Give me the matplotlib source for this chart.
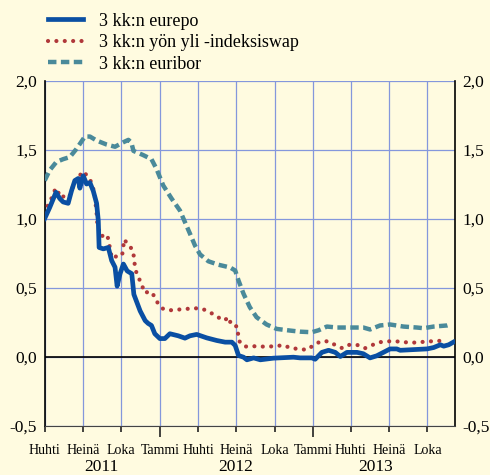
import matplotlib
matplotlib.use('Agg')
import matplotlib.pyplot as plt
import pandas as pd

plt.rcParams['font.family'] = 'serif'
plt.rcParams['font.serif'] = ['Liberation Serif', 'Times New Roman', 'DejaVu Serif']

# 3 kk:n eurepo
eurepo_dates = ['2011-04-01', '2011-04-13', '2011-04-28', '2011-05-07', '2011-05-15',
                '2011-05-27', '2011-06-04', '2011-06-12', '2011-06-20', '2011-06-24',
                '2011-07-02', '2011-07-10', '2011-07-18', '2011-07-26', '2011-08-03',
                '2011-08-07', '2011-08-09', '2011-08-19', '2011-08-31', '2011-09-08',
                '2011-09-16', '2011-09-21', '2011-09-28', '2011-10-06', '2011-10-15',
                '2011-10-26', '2011-10-31', '2011-11-15', '2011-11-27', '2011-12-04',
                '2011-12-12', '2011-12-20', '2012-01-01', '2012-01-13', '2012-01-25',
                '2012-02-14', '2012-03-01', '2012-03-13', '2012-03-29', '2012-04-22',
                '2012-05-16', '2012-06-05', '2012-06-21', '2012-06-29', '2012-07-07',
                '2012-07-19', '2012-07-27', '2012-08-12', '2012-08-28', '2012-09-28',
                '2012-11-15', '2012-12-01', '2012-12-29', '2013-01-06', '2013-01-22',
                '2013-02-07', '2013-02-23', '2013-03-07', '2013-03-23', '2013-04-16',
                '2013-05-01', '2013-05-17', '2013-06-02', '2013-06-18', '2013-07-04',
                '2013-07-20', '2013-07-28', '2013-08-29', '2013-09-30', '2013-10-16',
                '2013-11-01', '2013-11-09', '2013-11-21', '2013-12-02']
eurepo = [1.00, 1.08, 1.19, 1.145, 1.12,
          1.11, 1.20, 1.275, 1.29, 1.22,
          1.31, 1.25, 1.26, 1.20, 1.11,
          0.985, 0.79, 0.78, 0.79, 0.695,
          0.647, 0.51, 0.60, 0.67, 0.62,
          0.60, 0.45, 0.33, 0.26, 0.24,
          0.225, 0.165, 0.13, 0.13, 0.165,
          0.15, 0.133, 0.15, 0.16, 0.135,
          0.116, 0.104, 0.104, 0.08, 0.007,
          -0.005, -0.024, -0.01, -0.024, -0.012,
          -0.005, -0.01, -0.01, -0.02, 0.03,
          0.045, 0.03, 0.0, 0.03, 0.03,
          0.02, -0.01, 0.005, 0.03, 0.055,
          0.055, 0.045, 0.05, 0.055, 0.065,
          0.085, 0.075, 0.085, 0.104]

# 3 kk:n yön yli -indeksiswap
swap_dates = ['2011-04-01', '2011-04-07', '2011-04-13', '2011-04-21', '2011-04-27',
              '2011-05-03', '2011-05-06', '2011-05-17', '2011-05-29', '2011-06-04',
              '2011-06-10', '2011-06-18', '2011-06-22', '2011-06-28', '2011-07-11',
              '2011-07-22', '2011-07-26', '2011-07-30', '2011-08-01', '2011-08-03',
              '2011-08-04', '2011-08-08', '2011-08-12', '2011-08-28', '2011-09-01',
              '2011-09-06', '2011-09-12', '2011-09-20', '2011-09-24', '2011-10-03',
              '2011-10-06', '2011-10-07', '2011-10-19', '2011-10-30', '2011-10-31',
              '2011-11-07', '2011-11-16', '2011-11-26', '2011-12-08', '2011-12-20',
              '2011-12-28', '2012-01-09', '2012-01-25', '2012-02-14', '2012-03-05',
              '2012-03-24', '2012-04-12', '2012-04-30', '2012-05-16', '2012-06-02',
              '2012-06-14', '2012-06-19', '2012-07-04', '2012-07-06', '2012-07-07',
              '2012-07-22', '2012-08-09', '2012-08-28', '2012-09-16', '2012-10-05',
              '2012-10-22', '2012-11-09', '2012-11-29', '2012-12-17', '2013-01-03',
              '2013-01-19', '2013-02-07', '2013-02-23', '2013-03-12', '2013-03-29',
              '2013-04-17', '2013-05-05', '2013-05-24', '2013-06-10', '2013-06-29',
              '2013-07-18', '2013-08-06', '2013-08-26', '2013-09-14', '2013-10-04',
              '2013-10-24', '2013-11-10']
swap = [1.035, 1.085, 1.12, 1.17, 1.22,
        1.20, 1.155, 1.16, 1.15, 1.20,
        1.255, 1.295, 1.29, 1.34, 1.315,
        1.26, 1.215, 1.155, 1.095, 1.04,
        0.98, 0.925, 0.87, 0.884, 0.835,
        0.744, 0.708, 0.73, 0.735, 0.735,
        0.797, 0.848, 0.81, 0.76, 0.70,
        0.592, 0.543, 0.46, 0.473, 0.435,
        0.38, 0.345, 0.335, 0.34, 0.345,
        0.35, 0.345, 0.32, 0.29, 0.26,
        0.285, 0.23, 0.217, 0.16, 0.116,
        0.072, 0.075, 0.072, 0.072, 0.075,
        0.083, 0.06, 0.055, 0.048, 0.083,
        0.11, 0.11, 0.083, 0.06, 0.085,
        0.083, 0.06, 0.085, 0.104, 0.11,
        0.11, 0.104, 0.10, 0.104, 0.11,
        0.11, 0.12]

# 3 kk:n euribor
euribor_dates = ['2011-04-01', '2011-04-13', '2011-04-29', '2011-05-15', '2011-05-31',
                 '2011-06-16', '2011-07-06', '2011-07-18', '2011-08-03', '2011-08-27',
                 '2011-09-16', '2011-10-06', '2011-10-18', '2011-10-25', '2011-10-30',
                 '2011-11-22', '2011-12-12', '2011-12-24', '2012-01-09', '2012-01-29',
                 '2012-02-18', '2012-03-13', '2012-03-25', '2012-04-06', '2012-04-26',
                 '2012-05-20', '2012-06-17', '2012-06-29', '2012-07-07', '2012-07-19',
                 '2012-08-03', '2012-08-19', '2012-09-12', '2012-10-06', '2012-11-07',
                 '2012-12-01', '2012-12-29', '2013-01-14', '2013-02-03', '2013-02-27',
                 '2013-03-30', '2013-05-01', '2013-05-17', '2013-06-10', '2013-07-04',
                 '2013-08-05', '2013-09-06', '2013-09-22', '2013-10-16', '2013-11-17',
                 '2013-11-25']
euribor = [1.275, 1.35, 1.41, 1.43, 1.445,
           1.505, 1.594, 1.594, 1.565, 1.536,
           1.52, 1.553, 1.57, 1.55, 1.49,
           1.46, 1.43, 1.36, 1.24, 1.145,
           1.058, 0.89, 0.804, 0.74, 0.69,
           0.665, 0.645, 0.623, 0.55, 0.454,
           0.357, 0.285, 0.232, 0.20, 0.188,
           0.18, 0.176, 0.19, 0.217, 0.21,
           0.21, 0.21, 0.196, 0.225, 0.232,
           0.217, 0.21, 0.205, 0.217, 0.225,
           0.232]

tick_dates = ['2011-04-01', '2011-07-01', '2011-10-01', '2012-01-01', '2012-04-01',
              '2012-07-01', '2012-10-01', '2013-01-01', '2013-04-01', '2013-07-01',
              '2013-10-01']
tick_labels = ['Huhti', 'Heinä', 'Loka', 'Tammi', 'Huhti', 'Heinä', 'Loka', 'Tammi',
               'Huhti', 'Heinä', 'Loka']
years = ['2011', '2012', '2013']
year_pos = ['2011-08-15', '2012-07-01', '2013-05-30']
y_ticks = [-0.5, 0.0, 0.5, 1.0, 1.5, 2.0]

bg = '#FFFBE0'
c_blue = '#0A4FA3'
c_red = '#B0383A'
c_teal = '#4A8A9A'
c_grid = '#8497DC'

fig = plt.figure(figsize=(4.9, 4.75), dpi=100, facecolor=bg)
ax = fig.add_axes([0.0912, 0.1042, 0.8374, 0.7263], facecolor=bg)

ax.plot(pd.to_datetime(eurepo_dates), eurepo, color=c_blue, lw=3.4,
        solid_joinstyle='round', label='3 kk:n eurepo', zorder=5)
ax.plot(pd.to_datetime(swap_dates), swap, color=c_red, lw=3.0,
        linestyle=(0, (0.01, 2.0)), dash_capstyle='round',
        label='3 kk:n yön yli -indeksiswap', zorder=4)
ax.plot(pd.to_datetime(euribor_dates), euribor, color=c_teal, lw=3.2,
        linestyle=(0, (1.9, 1.0)), dash_capstyle='butt',
        label='3 kk:n euribor', zorder=3)

ax.axhline(0, color='black', lw=1.2, zorder=2)

ticks = pd.to_datetime(tick_dates)
ax.set_xticks(ticks)
ax.set_xticklabels(tick_labels, fontsize=10)
ax.set_xlim(pd.Timestamp('2011-04-01'), pd.Timestamp('2013-12-06'))
ax.set_ylim(-0.5, 2.0)
ax.set_yticks(y_ticks)
ax.set_yticklabels([f'{v:.1f}'.replace('.', ',') for v in y_ticks], fontsize=12.5)
ax.tick_params(axis='y', length=0, pad=5.5, labelright=True, right=False)
ax.tick_params(axis='x', length=4, width=1.2, color='#222222', pad=9, direction='out')
for t, lab in zip(ax.xaxis.get_major_ticks(), tick_labels):
    if lab == 'Tammi':
        t.tick1line.set_markersize(8)

ax.grid(True, color=c_grid, lw=0.9)
ax.set_axisbelow(True)
for side in ['left', 'right']:
    ax.spines[side].set_color('black')
    ax.spines[side].set_linewidth(1.2)
ax.spines['bottom'].set_color('#444444')
ax.spines['top'].set_visible(False)

for yr, pos in zip(years, year_pos):
    ax.annotate(yr, xy=(pd.Timestamp(pos), 0), xycoords=('data', 'axes fraction'),
                xytext=(0, -30), textcoords='offset points', ha='center', va='center',
                fontsize=12.5)

fig.legend(loc='upper left', bbox_to_anchor=(0.072, 1.0), frameon=False,
           fontsize=13, handlelength=1.95, handletextpad=0.9, labelspacing=0.25,
           borderaxespad=0.3)

plt.savefig('out.png', dpi=100, facecolor=bg)
